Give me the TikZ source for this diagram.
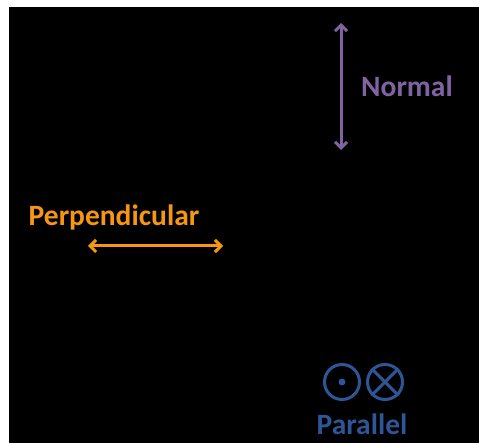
\documentclass[tikz,border=0pt]{standalone}
\usepackage{fontspec}
\setmainfont{Carlito}
\usetikzlibrary{arrows.meta}
\definecolor{normalc}{RGB}{128,100,162}
\definecolor{perpc}{RGB}{247,150,20}
\definecolor{parc}{RGB}{46,85,150}
\tikzset{
  dir/.style={line width=3pt, {Straight Barb[length=6pt,width=12pt,line width=3pt]}-{Straight Barb[length=6pt,width=12pt,line width=3pt]}},
  lbl/.style={font=\bfseries\fontsize{29.5}{34}\selectfont, inner sep=0pt},
  ring/.style={circle, draw=parc, line width=3pt, minimum size=35pt, inner sep=0pt}
}
\begin{document}
\begin{tikzpicture}[x=1pt,y=-1pt]
\useasboundingbox (0,0) rectangle (479,443);
\fill[black] (9,7) rectangle (479,443);
% Normal
\coordinate (n1) at (341,23);
\coordinate (n2) at (341,150);
\draw[dir, normalc] (n1) -- (n2);
\node[lbl, text=normalc] (normal) at (407,86) {Normal};
% Perpendicular
\node[lbl, text=perpc] (perp) at (114,217) {Perpendicular};
\coordinate (p1) at (88,246);
\coordinate (p2) at (223,246);
\draw[dir, perpc] (p1) -- (p2);
% Parallel
\node[ring] (dotc) at (342,382) {};
\fill[parc] (dotc.center) circle (3.5pt);
\node[ring] (crossc) at (385,382) {};
\draw[parc, line width=3pt] (crossc.45) -- (crossc.225) (crossc.135) -- (crossc.315);
\node[lbl, text=parc, anchor=base] (par) at (362,434) {Parallel};
\end{tikzpicture}
\end{document}
